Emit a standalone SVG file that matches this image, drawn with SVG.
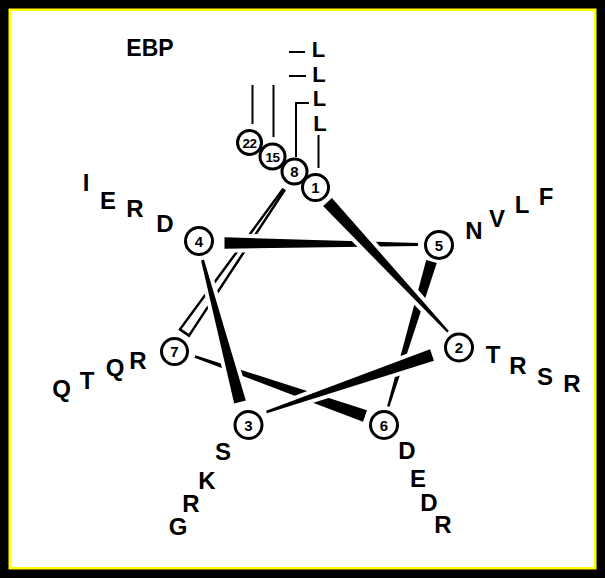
<svg xmlns="http://www.w3.org/2000/svg" width="605" height="578" viewBox="0 0 605 578">
<style>
.t{font-family:"Liberation Sans",Arial,sans-serif;font-weight:bold;font-size:24px;fill:#000;text-anchor:middle}
.e{font-size:23px}
.l{font-size:22px}
.n{font-family:"Liberation Sans",Arial,sans-serif;font-weight:bold;font-size:15px;fill:#000;text-anchor:middle}
.s{font-size:13.5px;letter-spacing:-0.5px}
.c{fill:#fff;stroke:#000;stroke-width:3}
.w{fill:#000;stroke:#fff;stroke-width:8;stroke-linejoin:round;paint-order:stroke}
.o{fill:#fff;stroke:#000;stroke-width:2.5;stroke-linejoin:miter}
.ld{fill:none;stroke:#000;stroke-width:2}
</style>
<rect x="0" y="0" width="605" height="578" fill="#000"/>
<rect x="8.5" y="8.5" width="588" height="561" fill="#ff0"/>
<rect x="11" y="11" width="583" height="556" fill="#fff"/>
<text class="t e" x="150" y="56">EBP</text>
<g id="connectors">
  <polygon class="o" points="189.02,335.64 284.32,190.57 282.68,189.43 179.98,329.36"/>
  <polygon class="w" points="366.98,410.34 195.41,355.32 194.59,357.68 363.02,421.66"/>
  <polygon class="w" points="426.23,259.93 387.10,406.14 389.50,406.86 436.77,263.07"/>
  <polygon class="w" points="224.5,237.25 418,243 418,246 224.5,248.75"/>
  <polygon class="w" points="245.8,400.47 203.95,259.62 201.05,260.38 234.2,403.53"/>
  <polygon class="w" points="430.05,349.33 266.09,410.82 266.91,413.18 433.95,360.67"/>
  <polygon class="w" points="323.1,206.1 447.1,332.6 448.9,330.9 331.9,197.9"/>
  <g id="leaders">
    <line class="ld" x1="252.5" y1="85" x2="252.5" y2="124"/>
    <line class="ld" x1="273.5" y1="85" x2="273.5" y2="137"/>
    <polyline class="ld" points="309,103 296,103 296,157"/>
    <line class="ld" x1="318.5" y1="135" x2="318.5" y2="168"/>
    <line class="ld" x1="289" y1="52" x2="305" y2="52" stroke-width="2.5"/>
    <line class="ld" x1="289" y1="76" x2="306" y2="76" stroke-width="2.5"/>
  </g>
</g>
<g id="n22"><circle class="c" cx="249.5" cy="142.5" r="12"/><text class="n s" x="249.5" y="147.5">22</text></g>
<g id="n15"><circle class="c" cx="272.5" cy="156.5" r="12.5"/><text class="n s" x="272.5" y="161.5">15</text></g>
<g id="n8"><circle class="c" cx="294.5" cy="171.5" r="12.5"/><text class="n" x="294.5" y="177">8</text></g>
<g id="n1"><circle class="c" cx="315.5" cy="187.5" r="13"/><text class="n" x="315.5" y="193">1</text>
  <text class="t l" x="318.5" y="57">L</text><text class="t l" x="319" y="82">L</text><text class="t l" x="319.5" y="106">L</text><text class="t l" x="320" y="131">L</text></g>
<g id="n4"><circle class="c" cx="199" cy="241" r="13.5"/><text class="n" x="199" y="246.5">4</text>
  <text class="t" x="86" y="191">I</text><text class="t" x="108" y="209">E</text><text class="t" x="135" y="217">R</text><text class="t" x="165" y="232">D</text></g>
<g id="n5"><circle class="c" cx="439" cy="245" r="13.5"/><text class="n" x="439" y="250.5">5</text>
  <text class="t" x="474" y="238.5">N</text><text class="t" x="497" y="226.5">V</text><text class="t" x="522" y="213">L</text><text class="t" x="546" y="205">F</text></g>
<g id="n2"><circle class="c" cx="459" cy="347.5" r="13.5"/><text class="n" x="459" y="353">2</text>
  <text class="t" x="493" y="363">T</text><text class="t" x="518" y="374">R</text><text class="t" x="545" y="385">S</text><text class="t" x="572" y="392">R</text></g>
<g id="n7"><circle class="c" cx="174.5" cy="351.5" r="13"/><text class="n" x="174.5" y="357">7</text>
  <text class="t" x="61.5" y="397">Q</text><text class="t" x="87" y="389">T</text><text class="t" x="115" y="376">Q</text><text class="t" x="138" y="369">R</text></g>
<g id="n3"><circle class="c" cx="248.5" cy="425" r="13.5"/><text class="n" x="248.5" y="430.5">3</text>
  <text class="t" x="223" y="460">S</text><text class="t" x="207" y="489">K</text><text class="t" x="191" y="512">R</text><text class="t" x="178" y="535">G</text></g>
<g id="n6"><circle class="c" cx="384" cy="425" r="13.5"/><text class="n" x="384" y="430.5">6</text>
  <text class="t" x="407" y="459">D</text><text class="t" x="418" y="487">E</text><text class="t" x="429" y="511">D</text><text class="t" x="443" y="533">R</text></g>
</svg>
